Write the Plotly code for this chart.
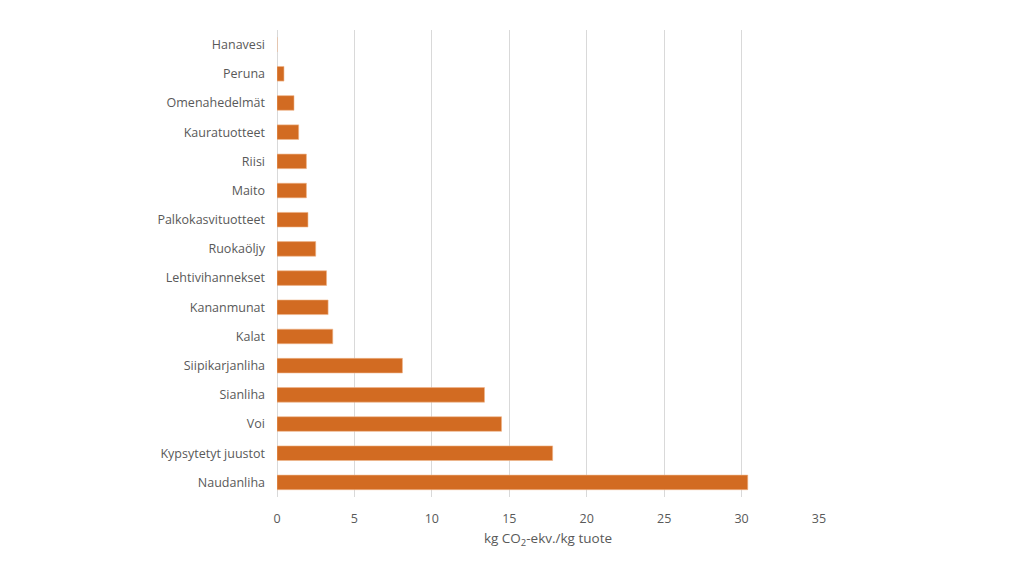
import plotly.graph_objects as go

# === Data (bottom to top order as drawn) ===
foods = [
    "Naudanliha", "Kypsytetyt juustot", "Voi", "Sianliha", "Siipikarjanliha",
    "Kalat", "Kananmunat", "Lehtivihannekset", "Ruokaöljy", "Palkokasvituotteet",
    "Maito", "Riisi", "Kauratuotteet", "Omenahedelmät", "Peruna", "Hanavesi",
]
emissions = [30.4, 17.8, 14.5, 13.4, 8.1, 3.6, 3.3, 3.2, 2.5, 2.0,
             1.9, 1.9, 1.4, 1.1, 0.45, 0.0]

x_ticks = [0, 5, 10, 15, 20, 25, 30, 35]

bar_color = "#D26B22"
text_color = "#595959"
grid_color = "#D9D9D9"

fig = go.Figure(go.Bar(
    x=emissions,
    y=foods,
    orientation="h",
    marker=dict(color=bar_color, line=dict(color="#F0B58A", width=0.6)),
))

fig.update_layout(
    width=1024,
    height=576,
    paper_bgcolor="white",
    plot_bgcolor="white",
    margin=dict(l=269, r=213, t=22, b=87),
    bargap=0.5,
    showlegend=False,
    font=dict(family="Open Sans, sans-serif", size=12, color=text_color),
)

fig.update_xaxes(
    range=[0, 35],
    tickvals=x_ticks,
    showgrid=True,
    gridcolor=grid_color,
    gridwidth=1,
    zeroline=True,
    zerolinecolor=grid_color,
    zerolinewidth=1,
    showline=False,
    ticks="",
    ticklabelstandoff=12,
    tickfont=dict(size=12.5, color=text_color),
    title=dict(text="kg CO<sub>2</sub>-ekv./kg tuote", font=dict(size=13.5, color=text_color), standoff=8),
)

fig.update_yaxes(
    categoryorder="array",
    categoryarray=foods,
    showgrid=False,
    showline=False,
    ticks="",
    ticklabelstandoff=11,
    tickfont=dict(size=12.5, color=text_color),
)

fig.write_html("out.html")
